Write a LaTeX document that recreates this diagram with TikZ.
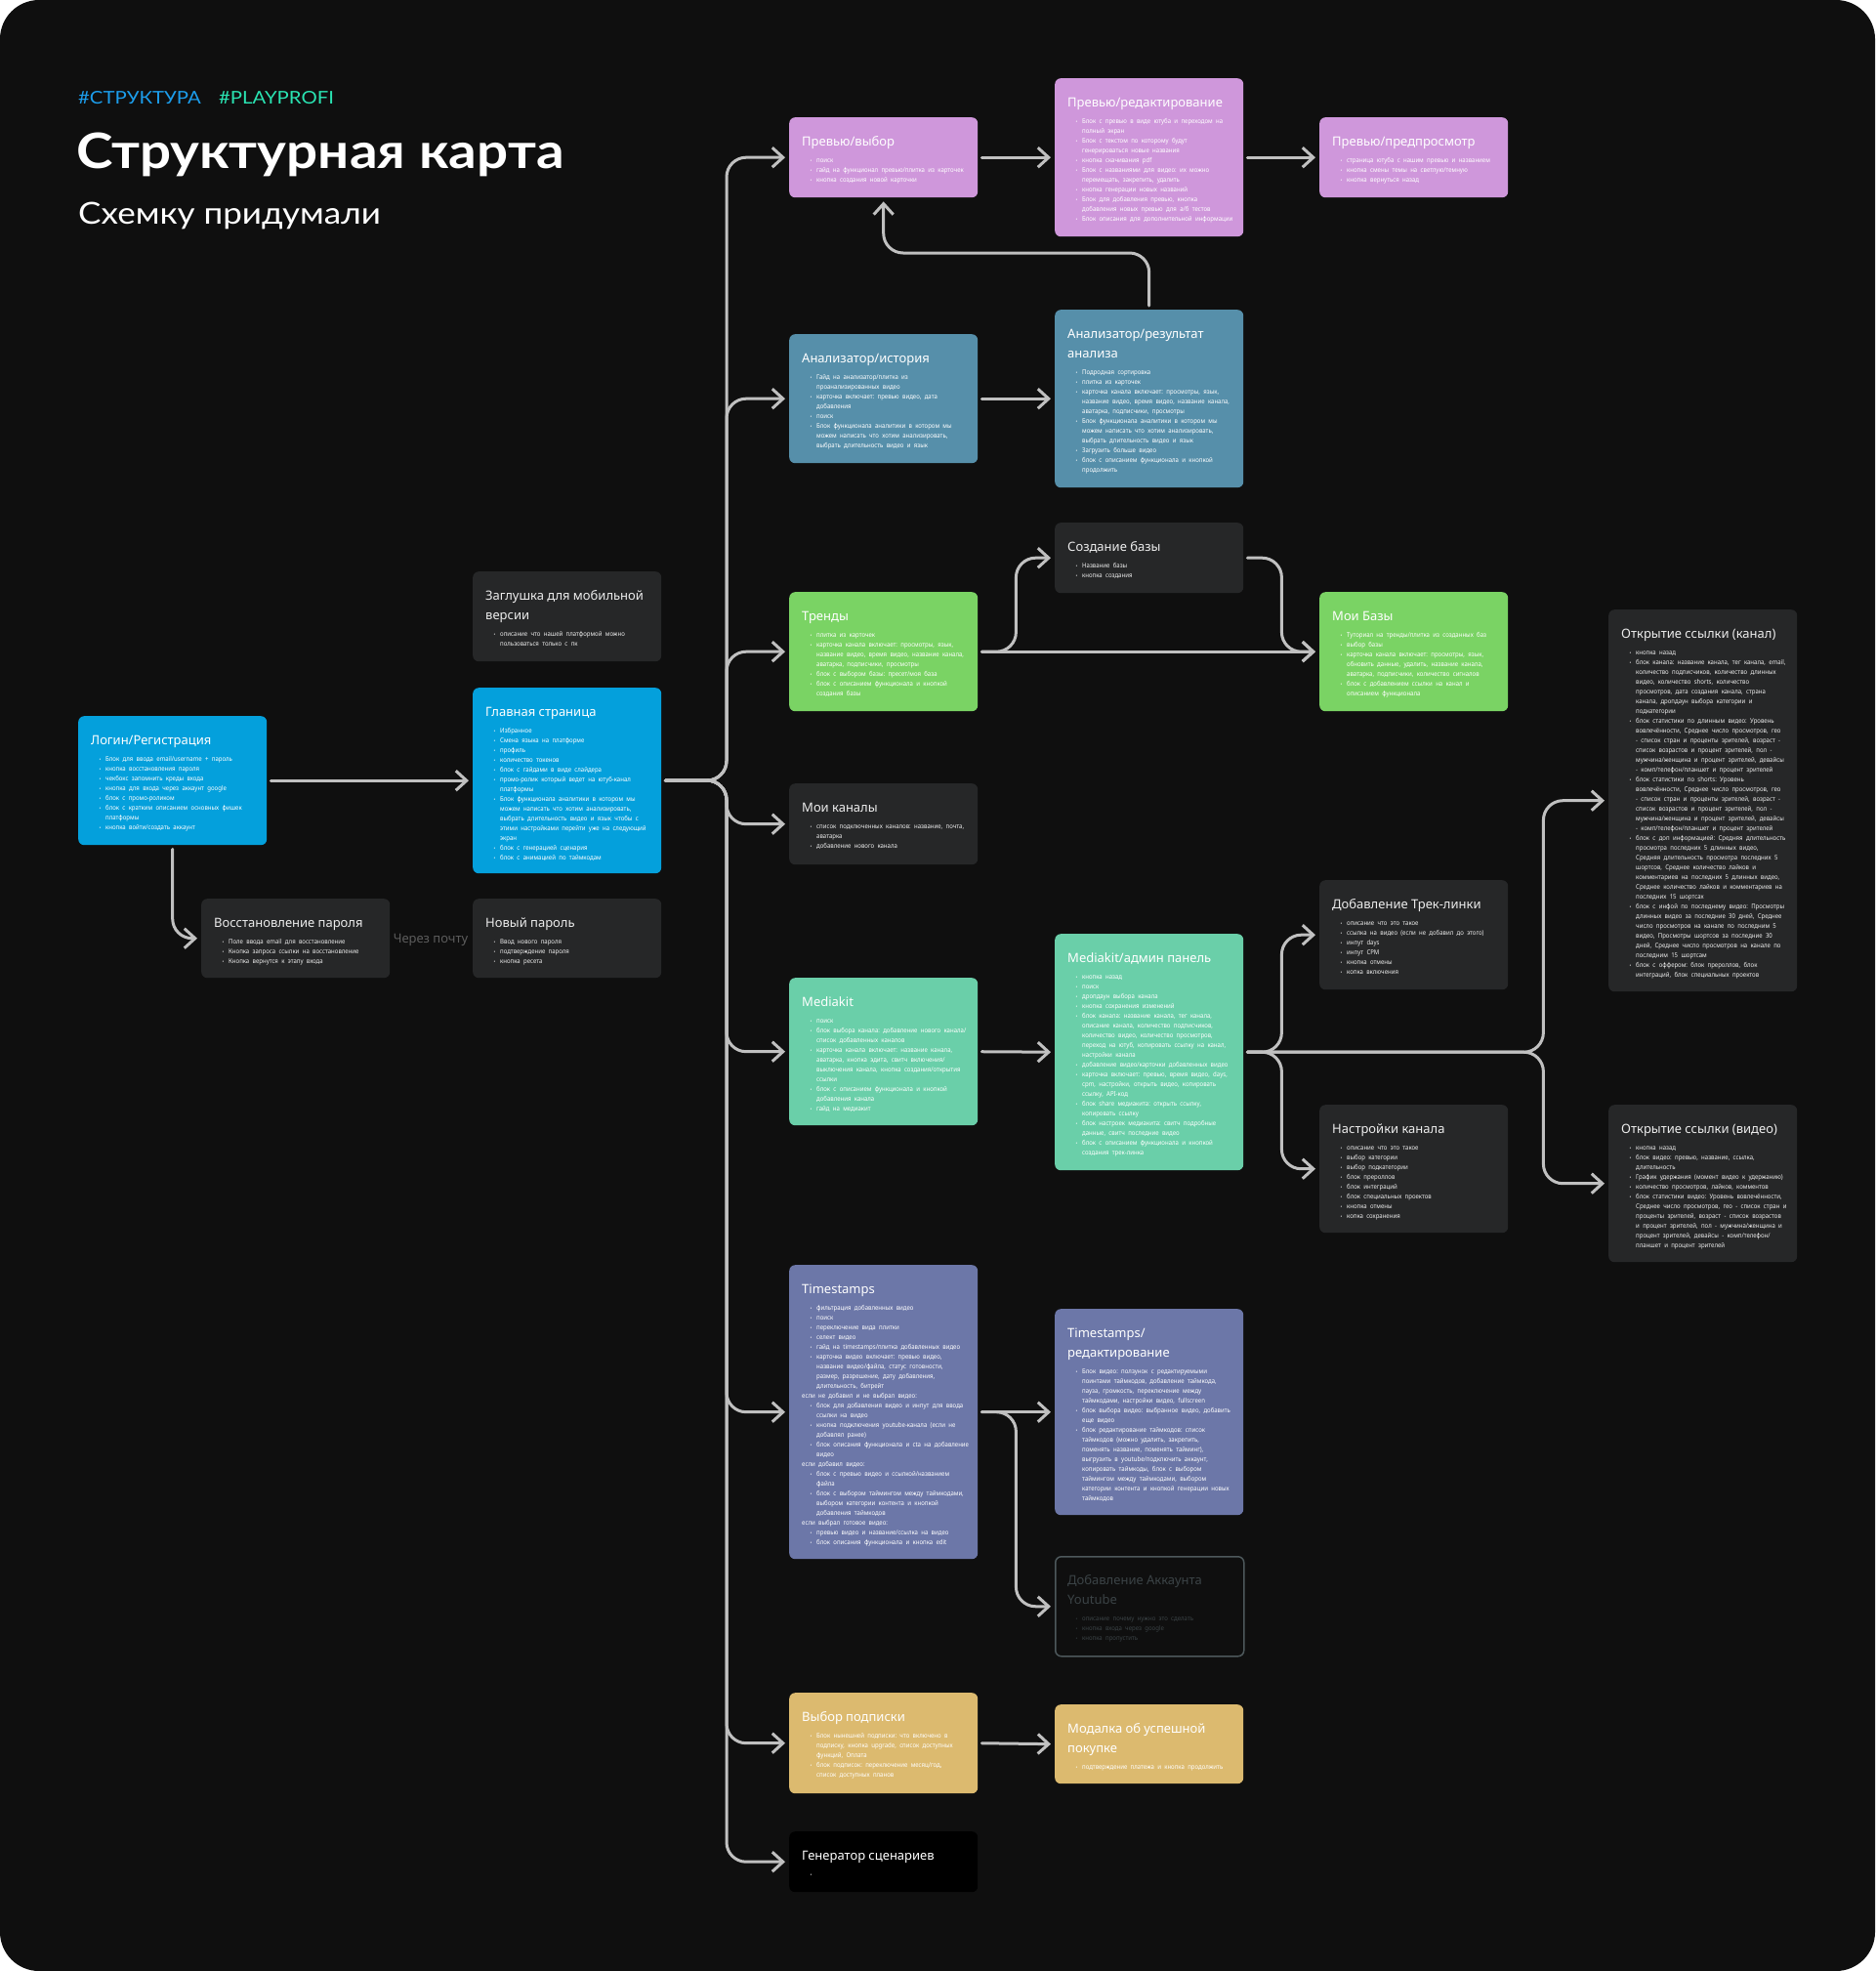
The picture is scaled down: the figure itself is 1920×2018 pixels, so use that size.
\documentclass[tikz,border=0pt]{standalone}
\usepackage{fontspec}
\setmainfont{Noto Sans}
\newfontfamily\headfont[FakeStretch=1.13]{Lato}
\newfontfamily\bodyfont[FakeStretch=0.9]{Noto Sans}
\usepackage{enumitem}
\usetikzlibrary{arrows.meta}

\definecolor{bgdark}{HTML}{0F0F0F}
\definecolor{cardgray}{HTML}{262728}
\definecolor{cardblue}{HTML}{04A0DC}
\definecolor{cardviolet}{HTML}{CF97DB}
\definecolor{cardsteel}{HTML}{568FAA}
\definecolor{cardgreen}{HTML}{7AD364}
\definecolor{cardmint}{HTML}{6ACFA9}
\definecolor{cardindigo}{HTML}{6C77A8}
\definecolor{cardsand}{HTML}{DCBA6F}
\definecolor{connline}{HTML}{C0C0C0}
\definecolor{lightink}{HTML}{EDEDED}
\definecolor{dimtext}{HTML}{3B4346}
\definecolor{dimframe}{HTML}{4D585B}
\definecolor{tagblue}{HTML}{1C9DEB}
\definecolor{tagteal}{HTML}{2AE3B2}
\definecolor{viagray}{HTML}{5C5C5C}

\newlist{pts}{itemize}{1}
\setlist[pts]{label={\fontsize{5}{5}\selectfont\textbullet}, leftmargin=15pt,
  labelsep=5pt, topsep=0pt, partopsep=0pt, itemsep=0pt, parsep=0pt}

\tikzset{
  card/.style={rounded corners=6pt, minimum width=193pt, inner sep=0pt, anchor=north west},
  cardtxt/.style={anchor=north west, inner sep=0pt, text width=400pt, align=left},
  scrblue/.style={fill=cardblue},
  scrdark/.style={fill=cardgray},
  scrviolet/.style={fill=cardviolet},
  scrsteel/.style={fill=cardsteel},
  scrgreen/.style={fill=cardgreen},
  scrmint/.style={fill=cardmint},
  scrindigo/.style={fill=cardindigo},
  scrsand/.style={fill=cardsand},
  scrblack/.style={fill=black},
  scrdim/.style={fill=bgdark, draw=dimframe, line width=1.5pt},
  conn/.style={-{Straight Barb[length=11pt,width=20pt]}, line width=3pt, connline,
    line cap=round, rounded corners=20pt, shorten >=4pt, shorten <=4pt},
}

% card: [ink]{name}{style}{x}{y}{height}{title}{items}
\newcommand{\screen}[8][white]{%
  \node[card, #3, minimum height=#6pt] (#2) at (#4,#5) {};
  \node[cardtxt, text=#1] (#2-txt) at ([xshift=13pt]#2.north west)
    {\frenchspacing
     {\fontsize{13}{20}\selectfont\rule{0pt}{29pt}#7\par}%
     \bodyfont\fontsize{6.7}{10}\selectfont\vspace{7pt}%
     \begin{pts}#8\end{pts}};
}

\begin{document}
\begin{tikzpicture}[x=1pt,y=-1pt]
  \useasboundingbox (0,0) rectangle (1920,2018);
  \fill[white] (0,0) rectangle (1920,2018);
  \fill[bgdark, rounded corners=40pt] (0,0) rectangle (1920,2018);

  % --- header ---
  \node[anchor=base west, inner sep=0pt, text=tagblue] (tagmap) at (80,106)
    {\headfont\fontsize{18}{18}\selectfont\#СТРУКТУРА};
  \node[anchor=base west, inner sep=0pt, text=tagteal] (tagproj) at (224,106)
    {\headfont\fontsize{18}{18}\selectfont\#PLAYPROFI};
  \node[anchor=base west, inner sep=0pt, text=white] (maptitle) at (78,172)
    {\headfont\bfseries\fontsize{50}{50}\selectfont Структурная карта};
  \node[anchor=base west, inner sep=0pt, text=white] (mapsub) at (80,229)
    {\headfont\fontsize{31}{31}\selectfont Схемку придумали};

  % --- entry ---
  \screen{login}{scrblue}{80}{733}{132}{Логин/Регистрация}{%
    \item Блок для ввода email/username + пароль
    \item кнопка восстановления пароля
    \item чекбокс запомнить креды входа
    \item кнопка для входа через аккаунт google
    \item блок с промо-роликом
    \item блок с кратким описанием основных фишек\\ платформы
    \item кнопка войти/создать аккаунт}
  \screen[lightink]{recov}{scrdark}{206}{920}{81}{Восстановление пароля}{%
    \item Поле ввода email для восстановление
    \item Кнопка запроса ссылки на восстановление
    \item Кнопка вернутся к этапу входа}
  \screen[lightink]{newpw}{scrdark}{484}{920}{81}{Новый пароль}{%
    \item Ввод нового пароля
    \item подтверждение пароля
    \item кнопка ресета}
  \node[text=viagray, inner sep=0pt, font=\fontsize{13}{13}\selectfont] (viamail) at (441,962) {Через почту};
  \screen[lightink]{stub}{scrdark}{484}{585}{92}{Заглушка для мобильной\\ версии}{%
    \item описание что нашей платформой можно\\ пользоваться только с пк}
  \screen{main}{scrblue}{484}{704}{190}{Главная страница}{%
    \item Избранное
    \item Смена языка на платформе
    \item профиль
    \item количество токенов
    \item блок с гайдами в виде слайдера
    \item промо-ролик который ведет на ютуб-канал\\ платформы
    \item Блок функционала аналитики в котором мы\\ можем написать что хотим анализировать,\\ выбрать длительность видео и язык чтобы с\\ этими настройками перейти уже на следующий\\ экран
    \item блок с генерацией сценария
    \item блок с анимацией по таймкодам}

  % --- preview ---
  \screen{prevsel}{scrviolet}{808}{120}{82}{Превью/выбор}{%
    \item поиск
    \item гайд на функционал превью/плитка из карточек
    \item кнопка создания новой карточки}
  \screen{prevedit}{scrviolet}{1080}{80}{162}{Превью/редактирование}{%
    \item Блок с превью в виде ютуба и переходом на\\ полный экран
    \item Блок с текстом по которому будут\\ генерироваться новые названия
    \item кнопка скачивания pdf
    \item Блок с названиями для видео: их можно\\ перемещать, закрепить, удалить
    \item кнопка генерации новых названий
    \item Блок для добавления превью, кнопка\\ добавления новых превью для а/б тестов
    \item Блок описания для дополнительной информации}
  \screen{prevview}{scrviolet}{1351}{120}{82}{Превью/предпросмотр}{%
    \item страница ютуба с нашим превью и названием
    \item кнопка смены темы на светлую/темную
    \item кнопка вернуться назад}

  % --- analyzer ---
  \screen{anhist}{scrsteel}{808}{342}{132}{Анализатор/история}{%
    \item Гайд на анализатор/плитка из\\ проанализированных видео
    \item карточка включает: превью видео, дата\\ добавления
    \item поиск
    \item Блок функционала аналитики в котором мы\\ можем написать что хотим анализировать,\\ выбрать длительность видео и язык}
  \screen{anres}{scrsteel}{1080}{317}{182}{Анализатор/результат\\ анализа}{%
    \item Подродная сортировка
    \item плитка из карточек
    \item карточка канала включает: просмотры, язык,\\ название видео, время видео, название канала,\\ аватарка, подписчики, просмотры
    \item Блок функционала аналитики в котором мы\\ можем написать что хотим анализировать,\\ выбрать длительность видео и язык
    \item Загрузить больше видео
    \item блок с описанием функционала и кнопкой\\ продолжить}

  % --- trends ---
  \screen[lightink]{dbnew}{scrdark}{1080}{535}{72}{Создание базы}{%
    \item Название базы
    \item кнопка создания}
  \screen{trends}{scrgreen}{808}{606}{122}{Тренды}{%
    \item плитка из карточек
    \item карточка канала включает: просмотры, язык,\\ название видео, время видео, название канала,\\ аватарка, подписчики, просмотры
    \item блок с выбором базы: пресет/моя база
    \item блок с описанием функционала и кнопкой\\ создания базы}
  \screen{mydb}{scrgreen}{1351}{606}{122}{Мои Базы}{%
    \item Туториал на тренды/плитка из созданных баз
    \item выбор базы
    \item карточка канала включает: просмотры, язык,\\ обновить данные, удалить, название канала,\\ аватарка, подписчики, количество сигналов
    \item блок с добавлением ссылки на канал и\\ описанием функционала}
  \screen[lightink]{mych}{scrdark}{808}{802}{83}{Мои каналы}{%
    \item список подключенных каналов: название, почта,\\ аватарка
    \item добавление нового канала}

  % --- mediakit ---
  \screen{mkit}{scrmint}{808}{1001}{151}{Mediakit}{%
    \item поиск
    \item блок выбора канала: добавление нового канала/\\ список добавленных каналов
    \item карточка канала включает: название канала,\\ аватарка, кнопка эдита, свитч включения/\\ выключения канала, кнопка создания/открытия\\ ссылки
    \item блок с описанием функционала и кнопкой\\ добавления канала
    \item гайд на медиакит}
  \screen{mkadm}{scrmint}{1080}{956}{242}{Mediakit/админ панель}{%
    \item кнопка назад
    \item поиск
    \item дропдаун выбора канала
    \item кнопка сохранения изменений
    \item блок канала: название канала, тег канала,\\ описание канала, количество подписчиков,\\ количество видео, количество просмотров,\\ переход на ютуб, копировать ссылку на канал,\\ настройки канала
    \item добавление видео/карточки добавленных видео
    \item карточка включает: превью, время видео, days,\\ cpm, настройки, открыть видео, копировать\\ ссылку, API-код
    \item блок share медиакита: открыть ссылку,\\ копировать ссылку
    \item блок настроек медиакита: свитч подробные\\ данные, свитч последние видео
    \item блок с описанием функционала и кнопкой\\ создания трек-линка}
  \screen[lightink]{trek}{scrdark}{1351}{901}{112}{Добавление Трек-линки}{%
    \item описание что это такое
    \item ссылка на видео (если не добавил до этого)
    \item инпут days
    \item инпут CPM
    \item кнопка отмены
    \item копка включения}
  \screen[lightink]{chset}{scrdark}{1351}{1131}{131}{Настройки канала}{%
    \item описание что это такое
    \item выбор категории
    \item выбор подкатегории
    \item блок прероллов
    \item блок интеграций
    \item блок специальных проектов
    \item кнопка отмены
    \item копка сохранения}
  \screen[lightink]{linkch}{scrdark}{1647}{624}{391}{Открытие ссылки (канал)}{%
    \item кнопка назад
    \item блок канала: название канала, тег канала, email,\\ количество подписчиков, количество длинных\\ видео, количество shorts, количество\\ просмотров, дата создания канала, страна\\ канала, дропдаун выбора категории и\\ подкатегории
    \item блок статистики по длинным видео: Уровень\\ вовлечённости, Среднее число просмотров, гео\\ - список стран и проценты зрителей, возраст -\\ список возрастов и процент зрителей, пол -\\ мужчина/женщина и процент зрителей, девайсы\\ - комп/телефон/планшет и процент зрителей
    \item блок статистики по shorts: Уровень\\ вовлечённости, Среднее число просмотров, гео\\ - список стран и проценты зрителей, возраст -\\ список возрастов и процент зрителей, пол -\\ мужчина/женщина и процент зрителей, девайсы\\ - комп/телефон/планшет и процент зрителей
    \item блок с доп информацией: Средняя длительность\\ просмотра последних 5 длинных видео,\\ Средняя длительность просмотра последних 5\\ шортсов, Среднее количество лайков и\\ комментариев на последних 5 длинных видео,\\ Среднее количество лайков и комментариев на\\ последних 15 шортсах
    \item блок с инфой по последнему видео: Просмотры\\ длинных видео за последние 30 дней, Среднее\\ число просмотров на канале по последним 5\\ видео, Просмотры шортсов за последние 30\\ дней, Среднее число просмотров на канале по\\ последним 15 шортсам
    \item блок с оффером: блок прероллов, блок\\ интеграций, блок специальных проектов}
  \screen[lightink]{linkvid}{scrdark}{1647}{1131}{161}{Открытие ссылки (видео)}{%
    \item кнопка назад
    \item блок видео: превью, название, ссылка,\\ длительность
    \item График удержания (момент видео к удержанию)
    \item количество просмотров, лайков, комментов
    \item блок статистики видео: Уровень вовлечённости,\\ Среднее число просмотров, гео - список стран и\\ проценты зрителей, возраст - список возрастов\\ и процент зрителей, пол - мужчина/женщина и\\ процент зрителей, девайсы - комп/телефон/\\ планшет и процент зрителей}

  % --- timestamps ---
  \screen{ts}{scrindigo}{808}{1295}{301}{Timestamps}{%
    \item фильтрация добавленных видео
    \item поиск
    \item переключение вида плитки
    \item селект видео
    \item гайд на timestamps/плитка добавленных видео
    \item карточка видео включает: превью видео,\\ название видео/файла, статус готовности,\\ размер, разрешение, дату добавления,\\ длительность, битрейт
    \end{pts}если не добавил и не выбрал видео:\begin{pts}
    \item блок для добавления видео и инпут для ввода\\ ссылки на видео
    \item кнопка подключения youtube-канала (если не\\ добавлял ранее)
    \item блок описания функционала и cta на добавление\\ видео
    \end{pts}если добавил видео:\begin{pts}
    \item блок с превью видео и ссылкой/названием\\ файла
    \item блок с выбором таймингом между таймкодами,\\ выбором категории контента и кнопкой\\ добавления таймкодов
    \end{pts}если выбрал готовое видео:\begin{pts}
    \item превью видео и название/ссылка на видео
    \item блок описания функционала и кнопка edit}
  \screen{tsedit}{scrindigo}{1080}{1340}{211}{Timestamps/\\ редактирование}{%
    \item Блок видео: ползунок с редактируемыми\\ поинтами таймкодов, добавление таймкода,\\ пауза, громкость, переключение между\\ таймкодами, настройки видео, fullscreen
    \item блок выбора видео: выбранное видео, добавить\\ еще видео
    \item блок редактирование таймкодов: список\\ таймкодов (можно удалить, закрепить,\\ поменять название, поменять тайминг),\\ выгрузить в youtube/подключить аккаунт,\\ копировать таймкоды, блок с выбором\\ таймингом между таймкодами, выбором\\ категории контента и кнопкой генерации новых\\ таймкодов}
  \screen[dimtext]{ytacc}{scrdim}{1080}{1593}{102}{Добавление Аккаунта\\ Youtube}{%
    \item описание почему нужно это сделать
    \item кнопка входа через google
    \item кнопка пропустить}

  % --- plans, scripts ---
  \screen{plan}{scrsand}{808}{1733}{103}{Выбор подписки}{%
    \item Блок нынешней подписки: что включено в\\ подписку, кнопка upgrade, список доступных\\ функций, Оплата
    \item блок подписок: переключение месяц/год,\\ список доступных планов}
  \screen{okmod}{scrsand}{1080}{1745}{81}{Модалка об успешной\\ покупке}{%
    \item подтверждение платежа и кнопка продолжить}
  \screen{scen}{scrblack}{808}{1875}{62}{Генератор сценариев}{%
    \item ~}

  % --- connectors ---
  \coordinate (hub) at (744,799);
  \draw[conn] (login.east) -- (main.west);
  \draw[conn] (login.south) |- (recov.west);
  \foreach \dst in {prevsel,anhist,trends,mych,mkit,ts,plan,scen}
    \draw[conn] (main.east) -- (hub) |- (\dst.west);
  \draw[conn] (prevsel.east) -- (prevedit.west);
  \draw[conn] (prevedit.east) -- (prevview.west);
  \draw[conn] (anres.north) -- ++(0,-58) -| (prevsel.south);
  \draw[conn] (anhist.east) -- (anres.west);
  \draw[conn] (trends.east) -- ++(39,0) |- (dbnew.west);
  \draw[conn] (trends.east) -- (mydb.west);
  \draw[conn] (dbnew.east) -- ++(39,0) |- (mydb.west);
  \draw[conn] (mkit.east) -- (mkadm.west);
  \foreach \dst in {trek,chset}
    \draw[conn] (mkadm.east) -- ++(39,0) |- (\dst.west);
  \foreach \dst in {linkch,linkvid}
    \draw[conn] (mkadm.east) -- ++(307,0) |- (\dst.west);
  \draw[conn] (ts.east) -- (tsedit.west);
  \draw[conn] (ts.east) -- ++(39,0) |- (ytacc.west);
  \draw[conn] (plan.east) -- (okmod.west);
\end{tikzpicture}
\end{document}
